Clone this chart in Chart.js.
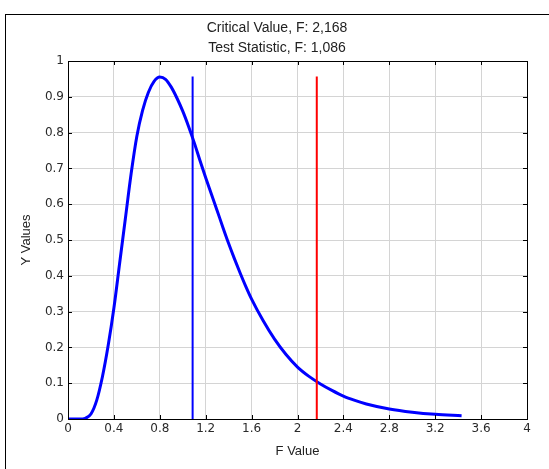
<!DOCTYPE html>
<html>
<head>
<meta charset="utf-8">
<script src="https://cdn.jsdelivr.net/npm/chart.js@4/dist/chart.umd.min.js"></script>
<style>
  html, body { margin: 0; padding: 0; background: #fff; overflow: hidden; }
  #wrap { position: relative; width: 549px; height: 469px; }
  #frame { position: absolute; left: 5px; top: 14px; width: 600px; height: 500px; border-left: 1px solid #000; border-top: 1px solid #000; }
  #chart-box { position: absolute; left: 0; top: 0; width: 549px; height: 469px; }
</style>
</head>
<body>
<div id="wrap">
  <div id="frame"></div>
  <div id="chart-box"><canvas id="canvas"></canvas></div>
</div>
<script>
// values
var fValues = [0, 0.05, 0.10, 0.15, 0.20, 0.25, 0.30, 0.35, 0.40, 0.45, 0.50, 0.55, 0.60, 0.65, 0.70, 0.75, 0.80, 0.85,
               0.90, 0.95, 1.00, 1.05, 1.10, 1.15, 1.20, 1.25, 1.30, 1.35, 1.40, 1.45, 1.50, 1.55, 1.60, 1.70, 1.80, 1.90,
               2.00, 2.10, 2.20, 2.30, 2.40, 2.50, 2.60, 2.80, 3.00, 3.20, 3.43]
var yValues = [0, 0, 0, 0.002, 0.014, 0.052, 0.118, 0.205, 0.31, 0.435, 0.56, 0.685, 0.79, 0.862, 0.912, 0.943, 0.955, 0.949,
               0.927, 0.896, 0.86, 0.818, 0.772, 0.722, 0.674, 0.628, 0.582, 0.535, 0.49, 0.448, 0.408, 0.37, 0.335, 0.275, 0.223, 0.18,
               0.145, 0.119, 0.098, 0.08, 0.064, 0.052, 0.042, 0.028, 0.019, 0.013, 0.009]
var criticalF = 2.168
var testF = 1.086
var markerTop = 0.957
var titleLines = ['Critical Value, F: 2,168', 'Test Statistic, F: 1,086']
var xTickValues = [0, 0.4, 0.8, 1.2, 1.6, 2, 2.4, 2.8, 3.2, 3.6, 4]
var yTickValues = [0, 0.1, 0.2, 0.3, 0.4, 0.5, 0.6, 0.7, 0.8, 0.9, 1]

var fontFam = '"Liberation Sans", Arial, sans-serif'
var tickFam = '"DejaVu Sans", Verdana, sans-serif'

var curvePoints = fValues.map(function(f, i){ return {x: f, y: yValues[i]} })

function tickText(v){ return String(Math.round(v * 10) / 10) }

// box round the plot, inward ticks and the two title lines
var framePlugin = {
  id: 'framePlugin',
  afterDatasetsDraw: function(chart){
    var c = chart.ctx, a = chart.chartArea
    var xs = chart.scales.x, ys = chart.scales.y
    c.save()
    c.strokeStyle = '#000'
    c.lineWidth = 1
    c.beginPath()
    xTickValues.forEach(function(v){
      var px = Math.round(xs.getPixelForValue(v)) + 0.5
      c.moveTo(px, a.top); c.lineTo(px, a.top + 4)
      c.moveTo(px, a.bottom); c.lineTo(px, a.bottom - 4)
    })
    yTickValues.forEach(function(v){
      var py = Math.round(ys.getPixelForValue(v)) + 0.5
      c.moveTo(a.left, py); c.lineTo(a.left + 4, py)
      c.moveTo(a.right, py); c.lineTo(a.right - 4, py)
    })
    c.stroke()
    c.strokeRect(Math.round(a.left) + 0.5, Math.round(a.top) + 0.5, Math.round(a.right - a.left), Math.round(a.bottom - a.top))
    c.fillStyle = '#222'
    c.font = '14px ' + fontFam
    c.textAlign = 'center'
    c.textBaseline = 'middle'
    c.fillText(titleLines[0], 277, 28)
    c.fillText(titleLines[1], 277, 48)
    c.restore()
  }
}

var ctx = document.getElementById('canvas')
var myChart = new Chart(ctx, {
  type: 'scatter',
  data: {
    datasets: [
      {
        label: 'Critical Value',
        data: [{x: criticalF, y: 0}, {x: criticalF, y: markerTop}],
        showLine: true,
        borderColor: '#ff0000',
        borderWidth: 2,
        pointRadius: 0
      },
      {
        label: 'Test Statistic',
        data: [{x: testF, y: 0}, {x: testF, y: markerTop}],
        showLine: true,
        borderColor: '#0000ff',
        borderWidth: 2,
        pointRadius: 0
      },
      {
        label: 'F pdf',
        data: curvePoints,
        showLine: true,
        borderColor: '#0000ff',
        borderWidth: 3,
        cubicInterpolationMode: 'monotone',
        pointRadius: 0
      }
    ]
  },
  options: {
    responsive: true,
    maintainAspectRatio: false,
    animation: false,
    layout: { padding: { top: 61, right: 22, bottom: 0, left: 0 } },
    plugins: {
      legend: { display: false },
      tooltip: { enabled: false },
      title: { display: false }
    },
    scales: {
      x: {
        type: 'linear',
        min: 0,
        max: 4,
        afterBuildTicks: function(s){ s.ticks = xTickValues.map(function(v){ return {value: v} }) },
        afterFit: function(s){ s.height = 50 },
        border: { display: false },
        grid: { color: '#d4d4d4', lineWidth: 1, drawTicks: false },
        ticks: { padding: 3, color: '#2a2a2a', font: { family: tickFam, size: 12 }, maxRotation: 0, callback: tickText },
        title: { display: true, text: 'F Value', color: '#222', font: { family: fontFam, size: 13 }, padding: { top: 4, bottom: 10 } }
      },
      y: {
        type: 'linear',
        min: 0,
        max: 1,
        afterBuildTicks: function(s){ s.ticks = yTickValues.map(function(v){ return {value: v} }) },
        afterFit: function(s){ s.width = 68 },
        border: { display: false },
        grid: { color: '#d4d4d4', lineWidth: 1, drawTicks: false },
        ticks: { padding: 4, color: '#2a2a2a', font: { family: tickFam, size: 12 }, callback: tickText },
        title: { display: true, text: 'Y Values', color: '#222', font: { family: fontFam, size: 13 }, padding: { top: 19, bottom: 0 } }
      }
    }
  },
  plugins: [framePlugin]
})
</script>
</body>
</html>
